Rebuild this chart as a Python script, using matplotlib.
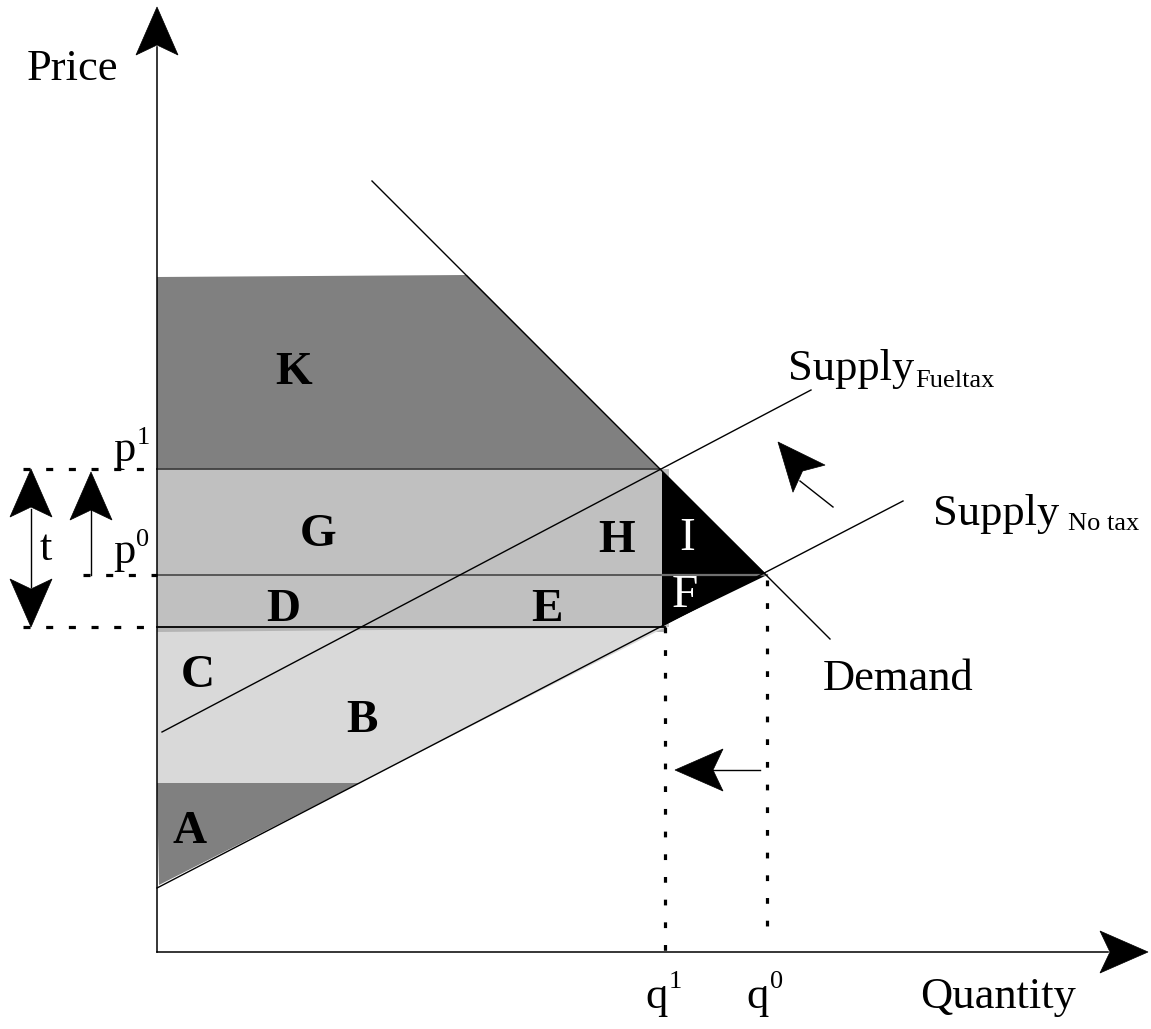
import matplotlib
matplotlib.use("Agg")
import matplotlib.pyplot as plt
import numpy as np
from matplotlib.patches import Polygon

plt.rcParams["font.family"] = "Liberation Serif"

# sketch coordinates (pixels of the original drawing, y grows downward)
x0, y0 = 157, 952            # origin of the axes
x_end, y_top = 1148, 7       # arrow tips
demand_x = [372, 830]
demand_y = [181, 639]
supply_x = [157, 903]
supply_y = [888, 501]
supply_tax_x = [162, 811]
supply_tax_y = [732, 390]
q1, q0 = 665, 767
p1, p0, p_net = 469, 575, 627
k_top = 276
a_top = 783

def supply_at(x):
    return np.interp(x, supply_x, supply_y)

def demand_at(x):
    return np.interp(x, demand_x, demand_y)

def arrowhead(ax, tip, direction, L=48, W=21, notch=10, color='black'):
    tip = np.array(tip, float)
    d = np.array(direction, float)
    d = d / np.hypot(*d)
    n = np.array([-d[1], d[0]])
    back = tip + d * L
    pts = [tip, back + n * W, tip + d * (L - notch), back - n * W]
    ax.add_patch(Polygon(pts, closed=True, fc=color, ec=color, lw=0.5, zorder=6))

fig = plt.figure(figsize=(11.51, 10.29), dpi=100)
ax = fig.add_axes([0, 0, 1, 1])
ax.set_xlim(0, 1151)
ax.set_ylim(1029, 0)
ax.axis('off')

# shaded regions
x_k = demand_x[0] + (k_top - demand_y[0])
ax.add_patch(Polygon([(x0, k_top + 1), (x_k, k_top - 1), (q1 - 5, p1), (x0, p1)],
                     fc='#808080', ec='none', zorder=1))
ax.add_patch(Polygon([(x0, p1), (q1 + 4, p1), (q1 + 4, p_net), (x0, p_net)],
                     fc='#c0c0c0', ec='none', zorder=1))
ax.add_patch(Polygon([(x0, p_net), (q1, p_net), (q1, p_net + 5), (x0, p_net + 5)],
                     fc='#b4b4b4', ec='none', zorder=1))
x_a = np.interp(a_top, supply_y[::-1], supply_x[::-1])
ax.add_patch(Polygon([(x0, p_net + 5), (q1, supply_at(q1) + 3), (x_a, a_top), (x0, a_top)],
                     fc='#d9d9d9', ec='none', zorder=1))
ax.add_patch(Polygon([(x0, a_top), (x_a, a_top), (x0 + 2, supply_at(x0) - 3)],
                     fc='#808080', ec='none', zorder=1))
ax.add_patch(Polygon([(q1 - 3, demand_at(q1 - 3)), (q0, p0), (q1, supply_at(q1)), (q1 - 3, p_net)],
                     fc='black', ec='none', zorder=2))

# price lines
ax.plot([x0, q1 - 5], [p1, p1], color='#404040', lw=1.3, zorder=3)
ax.plot([x0, q1 - 3], [p0, p0], color='#505050', lw=1.3, zorder=3)
ax.plot([q1 - 3, q0], [p0, p0], color='#707070', lw=1.6, zorder=3)
ax.plot([x0, q1], [p_net, p_net], color='black', lw=1.3, zorder=3)

# curves
ax.plot(demand_x, demand_y, color='black', lw=1.0, zorder=4)
ax.plot(supply_x, supply_y, color='black', lw=1.0, zorder=4)
ax.plot(supply_tax_x, supply_tax_y, color='black', lw=1.0, zorder=4)

# axes with arrows
ax.plot([x0, x0], [y0, y_top + 40], color='black', lw=1.1, zorder=5)
ax.plot([x0, x_end - 40], [y0, y0], color='black', lw=1.1, zorder=5)
arrowhead(ax, (x0, y_top), (0, 1))
arrowhead(ax, (x_end, y0), (-1, 0))

# dotted guide lines
hdots = dict(color='black', lw=2.3, linestyle=(0, (2.2, 4.9)), dash_capstyle='butt', zorder=5)
vdots = dict(color='black', lw=2.3, linestyle=(0, (1.8, 5.3)), dash_capstyle='butt', zorder=5)
ax.plot([23, x0], [p1, p1], **hdots)
ax.plot([83, x0], [p0, p0], **hdots)
ax.plot([23, x0], [p_net, p_net], **hdots)
ax.plot([q1, q1], [p_net, y0], **vdots)
ax.plot([q0, q0], [p0 + 5, y0 - 10], **vdots)

# tax arrows on the left
ax.plot([31, 31], [p1 + 40, p_net - 40], color='black', lw=1.0)
arrowhead(ax, (31, p1), (0, 1))
arrowhead(ax, (31, p_net), (0, -1))
ax.plot([91, 91], [p1 + 40, p0], color='black', lw=1.0)
arrowhead(ax, (91, p1 + 3), (0, 1))

# shift arrows
ax.plot([800, 833], [481, 507], color='black', lw=1.0)
arrowhead(ax, (778, 442), (55, 65))
ax.plot([710, 760], [770, 770], color='black', lw=1.0)
arrowhead(ax, (675, 770), (1, 0))

# labels
big, small = 32, 19
ax.text(27, 80, 'Price', fontsize=big, va='baseline')
ax.text(920, 1008, 'Quantity', fontsize=big, va='baseline')
ax.text(645, 1008, 'q', fontsize=big, va='baseline')
ax.text(669, 988, '1', fontsize=small, va='baseline')
ax.text(746, 1008, 'q', fontsize=big, va='baseline')
ax.text(770, 988, '0', fontsize=small, va='baseline')
ax.text(113, 461, 'p', fontsize=big, va='baseline')
ax.text(137, 444, '1', fontsize=small, va='baseline')
ax.text(113, 563, 'p', fontsize=big, va='baseline')
ax.text(136, 546, '0', fontsize=small, va='baseline')
ax.text(46, 560, 't', fontsize=big, va='baseline', ha='center')
ax.text(788, 380, 'Supply', fontsize=big, va='baseline')
ax.text(915, 387, 'Fueltax', fontsize=small, va='baseline')
ax.text(933, 525, 'Supply', fontsize=big, va='baseline')
ax.text(1068, 530, 'No tax', fontsize=small, va='baseline')
ax.text(823, 690, 'Demand', fontsize=big, va='baseline')

bold = dict(fontsize=34, fontweight='bold', ha='center', va='baseline', zorder=7)
ax.text(294, 384, 'K', **bold)
ax.text(318, 546, 'G', **bold)
ax.text(617, 552, 'H', **bold)
ax.text(283, 621, 'D', **bold)
ax.text(547, 621, 'E', **bold)
ax.text(198, 687, 'C', **bold)
ax.text(362, 732, 'B', **bold)
ax.text(190, 843, 'A', **bold)
ax.text(687, 550, 'I', fontsize=34, color='white', ha='center', va='baseline', zorder=7)
ax.text(685, 607, 'F', fontsize=34, color='white', ha='center', va='baseline', zorder=7)

fig.savefig('out.png', dpi=100, facecolor='white')
